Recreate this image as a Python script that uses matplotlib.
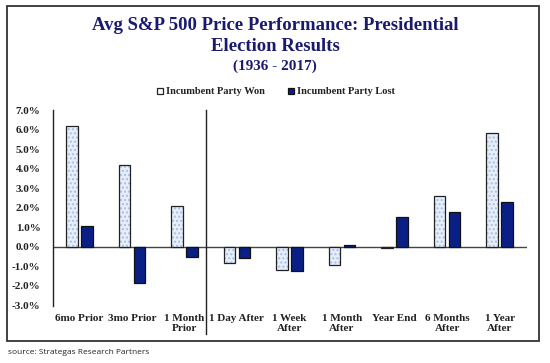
import matplotlib
matplotlib.use("Agg")
import matplotlib.pyplot as plt
import numpy as np
from matplotlib.patches import Rectangle
from matplotlib.lines import Line2D

categories = ["6mo Prior", "3mo Prior", "1 Month\nPrior", "1 Day After", "1 Week\nAfter",
              "1 Month\nAfter", "Year End", "6 Months\nAfter", "1 Year\nAfter"]
won = [6.17, 4.19, 2.10, -0.82, -1.17, -0.92, -0.06, 2.58, 5.81]
lost = [1.09, -1.83, -0.54, -0.55, -1.26, 0.07, 1.54, 1.79, 2.31]
yticks = [7, 6, 5, 4, 3, 2, 1, 0, -1, -2, -3]
ytick_labels = ["7.0%", "6.0%", "5.0%", "4.0%", "3.0%", "2.0%", "1.0%", "0.0%", "-1.0%", "-2.0%", "-3.0%"]

serif = "Liberation Serif"
navy = "#1b1b6e"

fig = plt.figure(figsize=(5.5, 3.63), dpi=100)
fig.patch.set_facecolor("white")
W, H = 550, 363
ax = fig.add_axes([53 / W, 1 - 305.5 / H, (527 - 53) / W, (305.5 - 110) / H])

x = np.arange(len(categories))
bw = 0.22
off = 0.143
# dotted light-blue fill for "won" bars
ax.bar(x - off, won, bw, color="#e6eef9", edgecolor="#a8bfe4", linewidth=0,
       hatch="....", zorder=3)
ax.bar(x - off, won, bw, fill=False, edgecolor="#222222", linewidth=0.9, zorder=4)
ax.bar(x + off, lost, bw, color="#0a1f86", edgecolor="#111111", linewidth=0.9, zorder=3)

ax.set_xlim(-0.5, 8.52)
ax.set_ylim(-3, 7)
ax.axhline(0, color="#444444", linewidth=1.0, zorder=2)

ax.set_yticks(yticks)
ax.set_yticklabels(ytick_labels, fontfamily=serif, fontweight="bold", fontsize=8, color="#222222")
ax.set_xticks(x)
ax.set_xticklabels(categories, fontfamily=serif, fontweight="bold", fontsize=8,
                   color="#222222", linespacing=1.1)
ax.tick_params(axis="y", length=0, pad=9)
ax.tick_params(axis="x", length=0, pad=6)
for s in ["top", "right", "bottom"]:
    ax.spines[s].set_visible(False)
ax.spines["left"].set_color("#222222")
ax.spines["left"].set_linewidth(1.0)

# divider line between before/after
div = Line2D([2.42, 2.42], [7, -3 - 28.5 / 19.55], color="#222222", linewidth=1.0,
             transform=ax.transData, clip_on=False)
ax.add_line(div)

h_won = Rectangle((0, 0), 1, 1, facecolor="white", edgecolor="#222222", linewidth=0.9)
h_lost = Rectangle((0, 0), 1, 1, facecolor="#0a1f86", edgecolor="#111111", linewidth=0.9)
leg = fig.legend([h_won, h_lost], ["Incumbent Party Won", "Incumbent Party Lost"],
                 loc="center", bbox_to_anchor=(276 / W, 1 - 92 / H), ncol=2, frameon=False,
                 prop={"family": serif, "weight": "bold", "size": 7.5},
                 handlelength=0.6, handleheight=0.6, handletextpad=0.3, columnspacing=2.2)
for t in leg.get_texts():
    t.set_color("#222222")

fig.text(275 / W, 1 - 26 / H, "Avg S&P 500 Price Performance: Presidential", ha="center", va="center",
         fontfamily=serif, fontweight="bold", fontsize=13.5, color=navy)
fig.text(275 / W, 1 - 46.5 / H, "Election Results", ha="center", va="center",
         fontfamily=serif, fontweight="bold", fontsize=13.5, color=navy)
fig.text(275 / W, 1 - 66 / H, "(1936 - 2017)", ha="center", va="center",
         fontfamily=serif, fontweight="bold", fontsize=11, color=navy)

frame = Rectangle((7 / W, 1 - 341 / H), (539 - 7) / W, (341 - 6) / H, transform=fig.transFigure,
                  fill=False, edgecolor="#333333", linewidth=1.3)
fig.patches.append(frame)

fig.text(8 / W, 1 - 353 / H, "source: Strategas Research Partners", ha="left", va="center",
         fontfamily="Open Sans", fontsize=6, color="#222222")

fig.savefig("out.png", dpi=100)
